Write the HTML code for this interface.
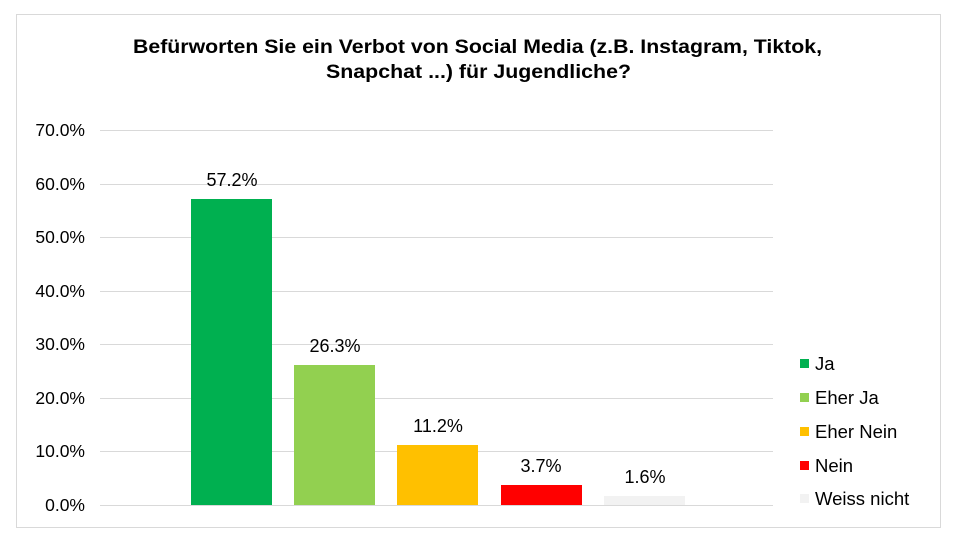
<!DOCTYPE html>
<html><head><meta charset="utf-8"><style>
body{margin:0;background:#fff;}
</style></head><body>
<svg width="953" height="548" xmlns="http://www.w3.org/2000/svg" font-family="Liberation Sans, Arial, sans-serif">
<rect x="0" y="0" width="953" height="548" fill="#fff"/>
<rect x="16.5" y="14.5" width="924" height="513" fill="#fff" stroke="#d9d9d9" stroke-width="1"/>
<text x="133" y="53" font-size="19" font-weight="bold" fill="#000" textLength="689" lengthAdjust="spacingAndGlyphs">Befürworten Sie ein Verbot von Social Media (z.B. Instagram, Tiktok,</text>
<text x="326" y="78" font-size="19" font-weight="bold" fill="#000" textLength="305" lengthAdjust="spacingAndGlyphs">Snapchat ...) für Jugendliche?</text>
<g stroke="#d9d9d9" stroke-width="1">
<line x1="100" x2="773" y1="130.5" y2="130.5"/>
<line x1="100" x2="773" y1="184.5" y2="184.5"/>
<line x1="100" x2="773" y1="237.5" y2="237.5"/>
<line x1="100" x2="773" y1="291.5" y2="291.5"/>
<line x1="100" x2="773" y1="344.5" y2="344.5"/>
<line x1="100" x2="773" y1="398.5" y2="398.5"/>
<line x1="100" x2="773" y1="451.5" y2="451.5"/>
<line x1="100" x2="773" y1="505.5" y2="505.5"/>
</g>
<g font-size="17.5" fill="#000" text-anchor="end">
<text x="85" y="136">70.0%</text>
<text x="85" y="190">60.0%</text>
<text x="85" y="243">50.0%</text>
<text x="85" y="297">40.0%</text>
<text x="85" y="350">30.0%</text>
<text x="85" y="404">20.0%</text>
<text x="85" y="457">10.0%</text>
<text x="85" y="511">0.0%</text>
</g>
<rect x="191" y="199" width="81" height="306" fill="#00B050"/>
<rect x="294" y="365" width="81" height="140" fill="#92D050"/>
<rect x="397" y="445" width="81" height="60" fill="#FFC000"/>
<rect x="501" y="485" width="81" height="20" fill="#FF0000"/>
<rect x="604" y="496" width="81" height="9" fill="#F2F2F2"/>
<g font-size="18" fill="#000" text-anchor="middle">
<text x="232" y="186">57.2%</text>
<text x="335" y="352">26.3%</text>
<text x="438" y="432">11.2%</text>
<text x="541" y="472">3.7%</text>
<text x="645" y="483">1.6%</text>
</g>
<g font-size="18.5" fill="#000">
<rect x="800" y="359" width="9" height="9" fill="#00B050"/><text x="815" y="370">Ja</text>
<rect x="800" y="393" width="9" height="9" fill="#92D050"/><text x="815" y="404">Eher Ja</text>
<rect x="800" y="427" width="9" height="9" fill="#FFC000"/><text x="815" y="438">Eher Nein</text>
<rect x="800" y="461" width="9" height="9" fill="#FF0000"/><text x="815" y="472">Nein</text>
<rect x="800" y="494" width="9" height="9" fill="#F2F2F2"/><text x="815" y="505">Weiss nicht</text>
</g>
</svg>
</body></html>
